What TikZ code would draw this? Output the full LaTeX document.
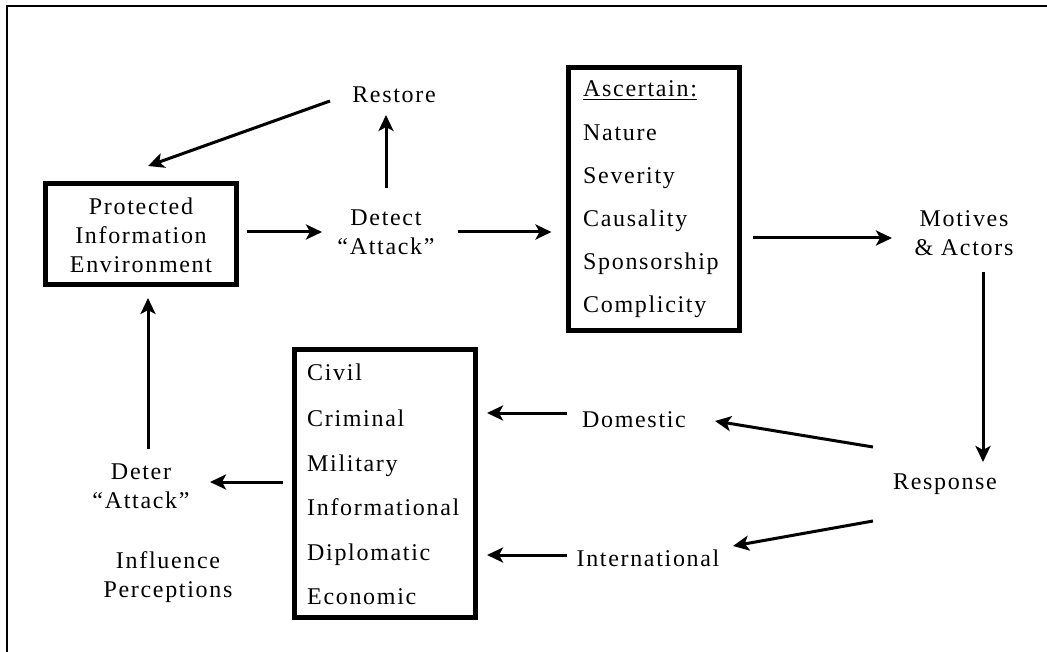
\documentclass[tikz,border=0pt]{standalone}
\usepackage{fontspec}
\setmainfont{Liberation Serif}[LetterSpace=7]
\usetikzlibrary{arrows.meta,calc}
\begin{document}
\begin{tikzpicture}[x=1pt,y=-1pt,
  lbl/.style={font=\fontsize{24}{29}\selectfont, align=center, inner sep=0pt},
  item/.style={font=\fontsize{24}{29}\selectfont, anchor=base west, inner sep=0pt},
  bbox/.style={draw, line width=5pt, inner sep=0pt, minimum width=#1},
  arr/.style={line width=3pt, -{Stealth[length=16pt,width=15pt,inset=4pt]}},
  frame/.style={line width=2.5pt}
]
\useasboundingbox (0,0) rectangle (1047,652);
% open frame
\draw[frame] (7,652) -- (7,6) -- (1047,6);

% boxes
\node[bbox=190.5pt, minimum height=101.5pt] (pe) at (141,234) {};
\node[bbox=171.5pt, minimum height=262.5pt] (asc) at (654,199) {};
\node[bbox=181pt, minimum height=268pt] (resp-box) at (385,483.5) {};

% text labels
\node[lbl] (petext) at (141,235) {Protected\\Information\\Environment};
\node[lbl] (rest) at (394,95) {Restore};
\node[lbl] (det) at (386,232) {Detect\\“Attack”};
\node[lbl] (mot) at (964,233) {Motives\\\&~Actors};
\node[lbl] (resp) at (945,484) {Response};
\node[lbl] (dom) at (634,420) {Domestic};
\node[lbl] (intl) at (648,558) {International};
\node[lbl] (deter) at (141,486) {Deter\\“Attack”};
\node[lbl] (infl) at (168,577) {Influence\\Perceptions};

% ascertain list
\node[item] (a0) at (583,97) {\underline{Ascertain:}};
\node[item] (a1) at (583,141) {Nature};
\node[item] (a2) at (583,184) {Severity};
\node[item] (a3) at (583,227) {Causality};
\node[item] (a4) at (583,270) {Sponsorship};
\node[item] (a5) at (583,313) {Complicity};

% response list
\node[item] (r1) at (307,381) {Civil};
\node[item] (r2) at (307,426) {Criminal};
\node[item] (r3) at (307,471) {Military};
\node[item] (r4) at (307,515) {Informational};
\node[item] (r5) at (307,560) {Diplomatic};
\node[item] (r6) at (307,604) {Economic};

% connectors
\draw[arr] ($(rest)+(-64,6)$) -- ($(pe)+(7,-68)$);
\draw[arr] ($(pe)+(106,-2)$) -- ($(det)+(-64,0)$);
\draw[arr] ($(det)+(0,-44)$) -- ($(rest)+(-8,20)$);
\draw[arr] ($(det)+(72,0)$) -- ($(asc)+(-102.5,33)$);
\draw[arr] ($(asc)+(99,39)$) -- ($(mot)+(-72,5)$);
\draw[arr] ($(mot)+(19,39)$) -- ($(resp)+(38,-22)$);
\draw[arr] ($(resp)+(-72,-37)$) -- ($(dom)+(81,1)$);
\draw[arr] ($(resp)+(-72,37)$) -- ($(intl)+(85,-12)$);
\draw[arr] ($(dom)+(-67,-7)$) -- ($(resp-box)+(102,-70.5)$);
\draw[arr] ($(intl)+(-81,-3)$) -- ($(resp-box)+(102,71.5)$);
\draw[arr] ($(resp-box)+(-102,-1.5)$) -- ($(deter)+(69,-4)$);
\draw[arr] ($(deter)+(7,-37)$) -- ($(pe)+(7,64)$);
\end{tikzpicture}
\end{document}
